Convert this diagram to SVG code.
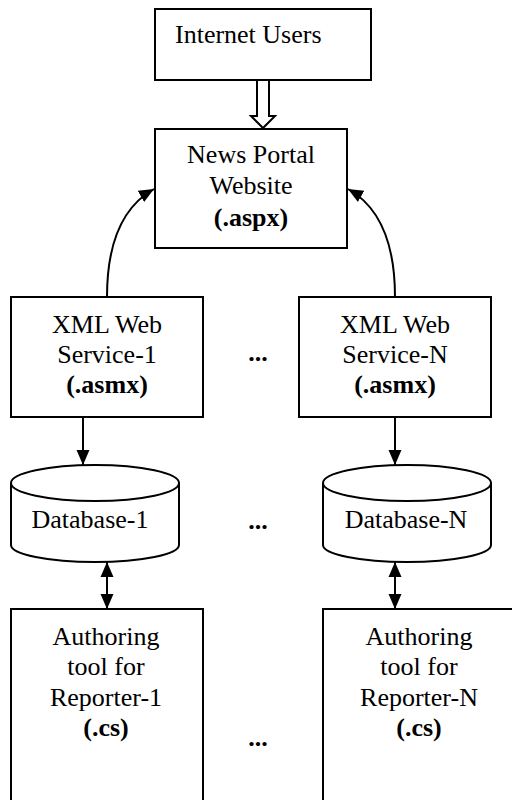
<svg xmlns="http://www.w3.org/2000/svg" width="512" height="800" viewBox="0 0 512 800">
<style>
.box{fill:#fff;stroke:#000;stroke-width:2}
.t{font-family:'Liberation Serif','Times New Roman',serif;font-size:26px;fill:#000;text-anchor:middle}
.s{text-anchor:start}
.b{font-weight:bold}
.ln{fill:none;stroke:#000;stroke-width:2}
</style>
<defs>
<marker id="ah" markerUnits="userSpaceOnUse" markerWidth="16" markerHeight="16" viewBox="0 0 16 16" refX="15" refY="8" orient="auto-start-reverse">
<path d="M0,1.5 L15,8 L0,14.5 Z" fill="#000"/>
</marker>
</defs>
<rect width="512" height="800" fill="#fff"/>
<g id="internet-users">
<rect class="box" x="155" y="9" width="216" height="71"/>
<text class="t s" x="175" y="43">Internet Users</text>
</g>
<g id="news-portal">
<rect class="box" x="155" y="129" width="192" height="119"/>
<text class="t" x="251" y="163">News Portal</text>
<text class="t" x="251" y="194">Website</text>
<text class="t b" x="251" y="226">(.aspx)</text>
</g>
<g id="ws1">
<rect class="box" x="11" y="297" width="192" height="120"/>
<text class="t" x="107" y="333">XML Web</text>
<text class="t" x="107" y="363">Service-1</text>
<text class="t b" x="107" y="393">(.asmx)</text>
</g>
<g id="wsN">
<rect class="box" x="299" y="297" width="192" height="120"/>
<text class="t" x="395" y="333">XML Web</text>
<text class="t" x="395" y="363">Service-N</text>
<text class="t b" x="395" y="393">(.asmx)</text>
</g>
<g id="db1">
<path class="box" d="M11,483 L11,545 A84,17 0 0 0 179,545 L179,483"/>
<ellipse class="box" cx="95" cy="483" rx="84" ry="18"/>
<text class="t" x="90" y="528">Database-1</text>
</g>
<g id="dbN">
<path class="box" d="M323,483 L323,545 A84,17 0 0 0 491,545 L491,483"/>
<ellipse class="box" cx="407" cy="483" rx="84" ry="18"/>
<text class="t" x="406" y="528">Database-N</text>
</g>
<g id="tool1">
<rect class="box" x="11" y="609" width="192" height="200"/>
<text class="t" x="106" y="645">Authoring</text>
<text class="t" x="106" y="675">tool for</text>
<text class="t" x="106" y="706">Reporter-1</text>
<text class="t b" x="106" y="736">(.cs)</text>
</g>
<g id="toolN">
<rect class="box" x="323" y="609" width="200" height="200"/>
<text class="t" x="419" y="645">Authoring</text>
<text class="t" x="419" y="675">tool for</text>
<text class="t" x="419" y="706">Reporter-N</text>
<text class="t b" x="419" y="736">(.cs)</text>
</g>
<g id="ellipses">
<text class="t b" x="258" y="361">...</text>
<text class="t b" x="258" y="529">...</text>
<text class="t b" x="258" y="746">...</text>
</g>
<g id="connectors">
<path class="box" d="M257,81 L257,116 L251,116 L263,128 L275,116 L269,116 L269,81"/>
<path class="ln" d="M107,297 C107,245 122,207 154,189" marker-end="url(#ah)"/>
<path class="ln" d="M395,297 C395,245 380,207 348,189" marker-end="url(#ah)"/>
<path class="ln" d="M83,417 L83,465" marker-end="url(#ah)"/>
<path class="ln" d="M395,417 L395,465" marker-end="url(#ah)"/>
<path class="ln" d="M107,562 L107,609" marker-start="url(#ah)" marker-end="url(#ah)"/>
<path class="ln" d="M395,562 L395,609" marker-start="url(#ah)" marker-end="url(#ah)"/>
</g>
</svg>
